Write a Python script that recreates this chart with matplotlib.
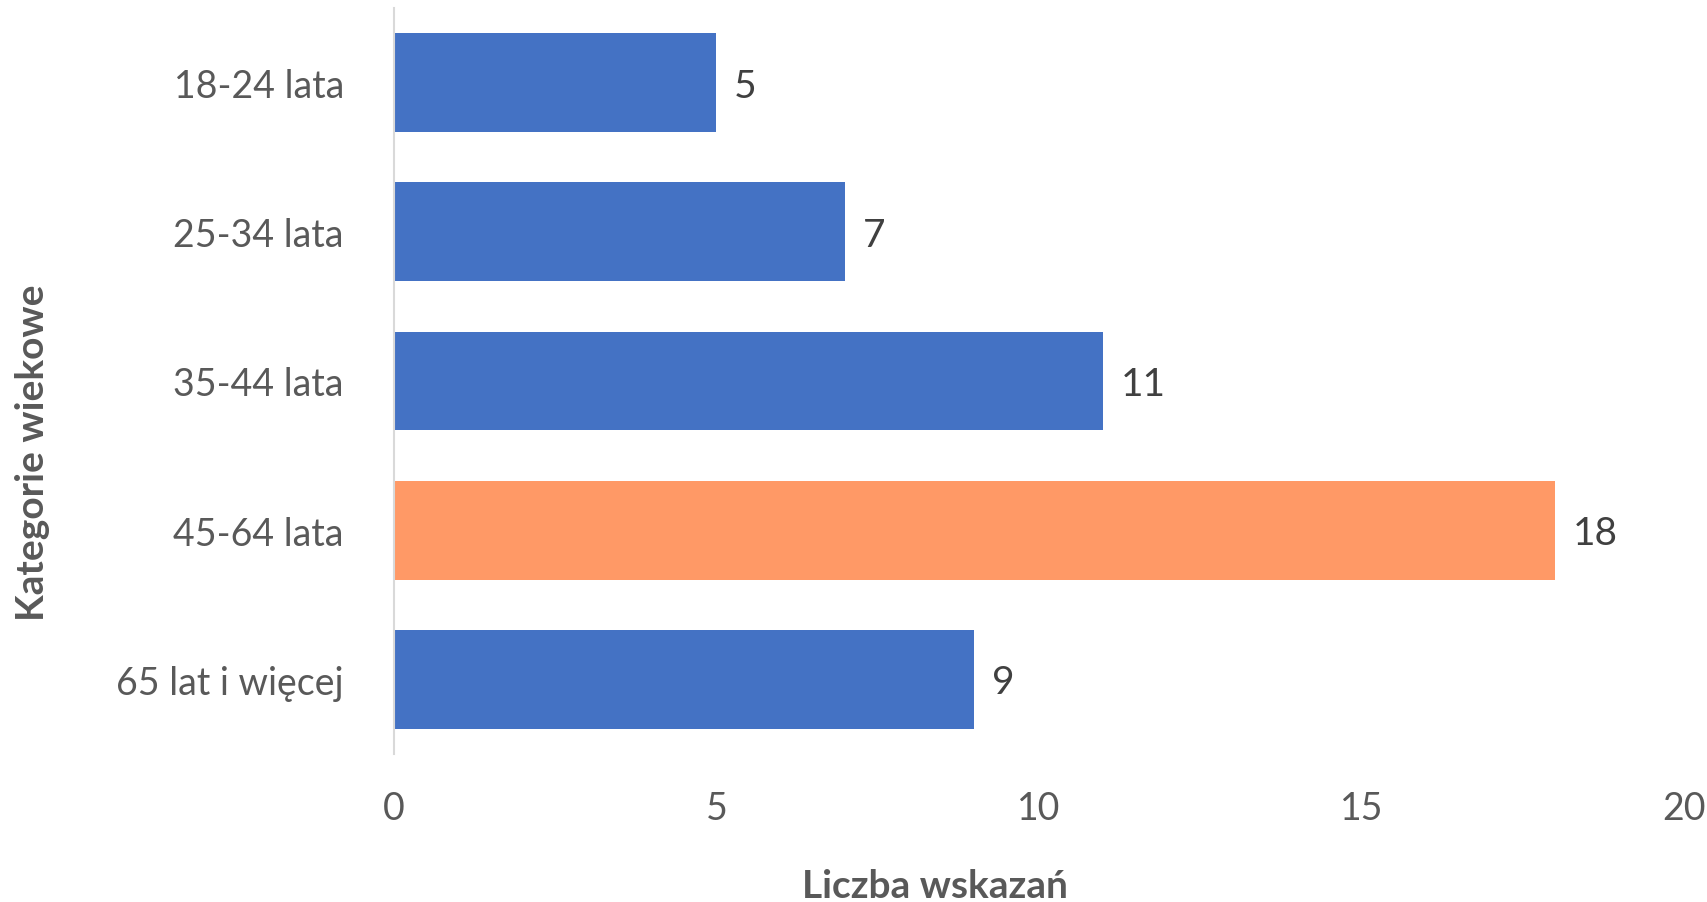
import matplotlib
matplotlib.use("Agg")
import matplotlib.pyplot as plt

categories = ["18-24 lata", "25-34 lata", "35-44 lata", "45-64 lata", "65 lat i więcej"]
values = [5, 7, 11, 18, 9]
highlight = "45-64 lata"
x_ticks = [0, 5, 10, 15, 20]

plt.rcParams['font.family'] = ['Lato', 'DejaVu Sans']
TXT = '#595959'

fig = plt.figure(figsize=(17.08, 9.03), dpi=100)
ax = fig.add_axes([394/1708, 1-755/903, (1684-394)/1708, (755-9)/903])

colors = ['#FF9966' if c == highlight else '#4472C4' for c in categories]
ypos = list(range(len(categories)))
ax.barh(ypos, values, height=0.663, color=colors, zorder=2)
ax.set_ylim(len(categories) - 0.5, -0.5)
ax.set_xlim(0, 20)
ax.set_yticks(ypos)
ax.set_yticklabels(categories)
ax.set_xticks(x_ticks)

for y, v in zip(ypos, values):
    ax.text(v + 0.27, y + 0.02, str(v), va='center', ha='left', fontsize=28, color='#404040')

for s in ['top', 'right', 'bottom']:
    ax.spines[s].set_visible(False)
ax.spines['left'].set_color('#D9D9D9')
ax.spines['left'].set_linewidth(1.5)
ax.tick_params(axis='both', length=0, labelsize=27, colors=TXT)
ax.tick_params(axis='y', pad=36)
ax.tick_params(axis='x', pad=26)

ax.set_xlabel('Liczba wskazań', fontsize=28, fontweight='bold', color=TXT)
ax.xaxis.set_label_coords(0.419, -0.176)
ax.xaxis.label.set_verticalalignment('center')
ax.set_ylabel('Kategorie wiekowe', fontsize=28, fontweight='bold', color=TXT)
ax.yaxis.set_label_coords(-0.280, 0.405)
ax.yaxis.label.set_verticalalignment('center')

fig.savefig('out.png', dpi=100)
